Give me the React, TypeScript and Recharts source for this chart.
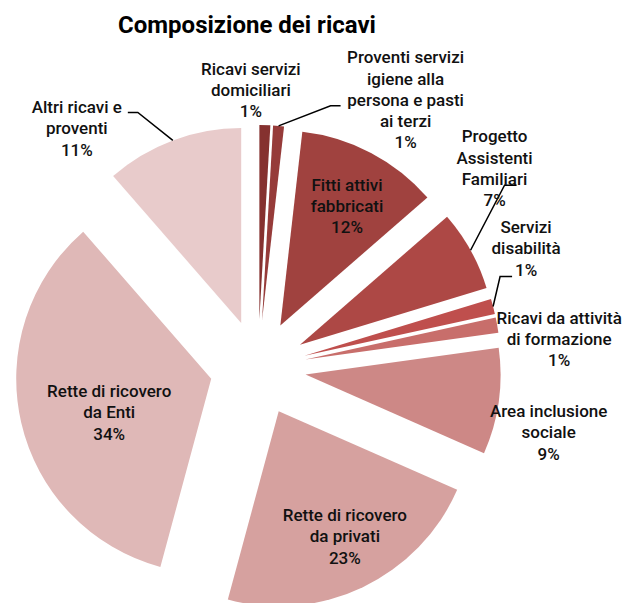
import React from "react";
import { PieChart, Pie, Cell } from "recharts";

// categories, in clockwise order starting at 12 o'clock
const categories = [
  "Ricavi servizi\ndomiciliari",
  "Proventi servizi\nigiene alla\npersona e pasti\nai terzi",
  "Fitti attivi\nfabbricati",
  "Progetto\nAssistenti\nFamiliari",
  "Servizi\ndisabilità",
  "Ricavi da attività\ndi formazione",
  "Area inclusione\nsociale",
  "Rette di ricovero\nda privati",
  "Rette di ricovero\nda Enti",
  "Altri ricavi e\nproventi",
];

// share of revenue (%)
const values = [0.9, 0.9, 11.8, 6.7, 1.25, 1.25, 8.8, 22.6, 34.4, 11.4];

const colors = [
  "#85312f",
  "#963b39",
  "#a0423f",
  "#ad4845",
  "#bf4f4d",
  "#c86e6b",
  "#cd8886",
  "#d6a19f",
  "#dfb8b7",
  "#e8cbcb",
];

const data = categories.map((name, i) => ({ name, value: values[i] }));

const CX = 258;
const CY = 368;
const RADIUS = 195;
const EXPLODE = 48; // how far each slice is pulled out
const RAD = Math.PI / 180;
const LINE_H = 21.3;

// label nudges, relative to the middle of each slice's outer arc
const labelOffsets = [
  [-14, -35],
  [127, -26],
  [-24, 53],
  [24, -82],
  [33, -58],
  [62, 14],
  [50, 31],
  [-18, -51],
  [88, -10],
  [-96, -12],
];

// leader lines: elbow and end, relative to the label centre (null = none)
const leaders: (number[][] | null)[] = [
  null,
  [[-75, 6], [-65, 6]],
  null,
  [[10, 17], [22, 17]],
  [[-26, 28], [-14, 28]],
  null,
  null,
  null,
  null,
  [[61, -16], [51, -16]],
];

const total = values.reduce((a, b) => a + b, 0);
const midAngles = values.map((v, i) => {
  const before = values.slice(0, i).reduce((a, b) => a + b, 0);
  return 90 - ((before + v / 2) / total) * 360;
});

const SliceLabel = (p: any) => {
  const i = p.index;
  const cos = Math.cos(-p.midAngle * RAD);
  const sin = Math.sin(-p.midAngle * RAD);
  const ax = p.cx + p.outerRadius * cos;
  const ay = p.cy + p.outerRadius * sin;
  const lx = ax + labelOffsets[i][0];
  const ly = ay + labelOffsets[i][1];
  const lines = [...categories[i].split("\n"), `${Math.round(p.percent * 100)}%`];
  const top = ly - ((lines.length - 1) / 2) * LINE_H;
  const lead = leaders[i];
  return (
    <g>
      {lead && (
        <polyline
          points={`${ax},${ay} ${lx + lead[0][0]},${ly + lead[0][1]} ${lx + lead[1][0]},${ly + lead[1][1]}`}
          fill="none"
          stroke="#000"
          strokeWidth={1.5}
        />
      )}
      <text
        x={lx}
        y={top}
        textAnchor="middle"
        dominantBaseline="central"
        fontFamily="Roboto, sans-serif"
        fontWeight={500}
        fontSize={17}
        fill="#111"
      >
        {lines.map((t, k) => (
          <tspan key={k} x={lx} y={top + k * LINE_H}>
            {t}
          </tspan>
        ))}
      </text>
    </g>
  );
};

export default function App() {
  return (
    <div style={{ position: "fixed", left: 0, top: 0, width: 625, height: 603, background: "#fff" }}>
      <PieChart width={625} height={603} margin={{ top: 0, right: 0, bottom: 0, left: 0 }}>
        {data.map((_, i) => (
          <Pie
            key={i}
            data={data}
            dataKey="value"
            nameKey="name"
            cx={CX + EXPLODE * Math.cos(midAngles[i] * RAD)}
            cy={CY - EXPLODE * Math.sin(midAngles[i] * RAD)}
            outerRadius={RADIUS}
            startAngle={90}
            endAngle={-270}
            stroke="none"
            labelLine={false}
            label={(p: any) => (p.index === i ? <SliceLabel {...p} /> : null)}
            isAnimationActive={false}
          >
            {data.map((_, j) => (
              <Cell key={j} fill={j === i ? colors[j] : "none"} stroke="none" />
            ))}
          </Pie>
        ))}
      </PieChart>
      <svg width={625} height={60} style={{ position: "absolute", left: 0, top: 0 }}>
        <text
          x={247}
          y={33}
          textAnchor="middle"
          fontFamily="Roboto, sans-serif"
          fontWeight={700}
          fontSize={24}
          fill="#000"
        >
          Composizione dei ricavi
        </text>
      </svg>
    </div>
  );
}
